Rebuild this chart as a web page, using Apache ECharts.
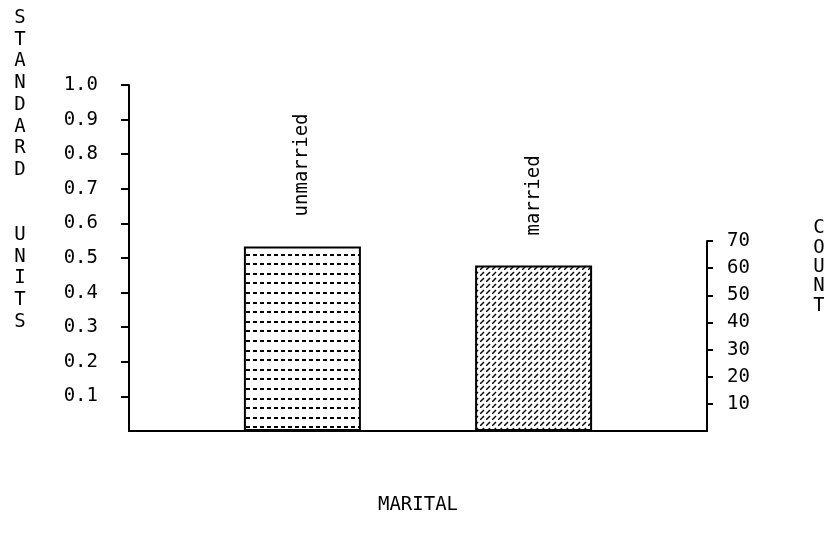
<!DOCTYPE html>
<html>
<head>
<meta charset="utf-8">
<title>MARITAL</title>
<script src="https://cdn.jsdelivr.net/npm/echarts@6/dist/echarts.min.js"></script>
<style>
  html, body { margin: 0; padding: 0; background: #fff; }
  #bar { width: 824px; height: 545px; }
</style>
</head>
<body>
<div id="bar"></div>
<script>
// 数据
const categories = ['unmarried', 'married'];
const barPositions = [1, 2];
const counts = [68, 61];
const unitTicks = [0.1, 0.2, 0.3, 0.4, 0.5, 0.6, 0.7, 0.8, 0.9, 1.0];
const countTicks = [10, 20, 30, 40, 50, 60, 70];

const FONT = '"DejaVu Sans Mono", "Liberation Mono", monospace';
const FONT_SIZE = 19;

// 横向虚线填充
function makeDashPattern () {
  const c = document.createElement('canvas');
  c.width = 7;
  c.height = 48;
  const ctx = c.getContext('2d');
  ctx.fillStyle = '#fff';
  ctx.fillRect(0, 0, c.width, c.height);
  ctx.fillStyle = '#000';
  [0, 10, 19, 29, 38].forEach(function (y) {
    ctx.fillRect(1, y + 4, 4, 2);
  });
  return c;
}

// 斜线填充
function makeHatchPattern () {
  const c = document.createElement('canvas');
  c.width = 6;
  c.height = 6;
  const ctx = c.getContext('2d');
  ctx.fillStyle = '#fff';
  ctx.fillRect(0, 0, 6, 6);
  ctx.strokeStyle = '#000';
  ctx.lineWidth = 1.4;
  ctx.beginPath();
  ctx.moveTo(0, 6);
  ctx.lineTo(4, 2);
  ctx.stroke();
  return c;
}

function getEchartsBar () {
  const myChart = echarts.init(document.getElementById('bar'));

  const patterns = [makeDashPattern(), makeHatchPattern()];

  const barData = counts.map(function (v, i) {
    return {
      value: [barPositions[i], v],
      name: categories[i],
      itemStyle: {
        color: { image: patterns[i], repeat: 'repeat' },
        borderColor: '#000',
        borderWidth: 2
      }
    };
  });

  const option = {
    backgroundColor: '#fff',
    animation: false,
    textStyle: { fontFamily: FONT },
    grid: [
      { left: 129, right: 117, top: 85, bottom: 114 },
      { left: 129, right: 117, top: 241, bottom: 114 }
    ],
    xAxis: [
      {
        type: 'value',
        gridIndex: 0,
        min: 0.25,
        max: 2.75,
        name: 'MARITAL',
        nameLocation: 'middle',
        nameGap: 65,
        nameTextStyle: { color: '#000', fontSize: FONT_SIZE, fontFamily: FONT },
        axisLine: { show: true, lineStyle: { color: '#000', width: 2 } },
        axisTick: { show: false },
        axisLabel: { show: false },
        splitLine: { show: false }
      },
      {
        type: 'value',
        gridIndex: 1,
        min: 0.25,
        max: 2.75,
        show: false
      }
    ],
    yAxis: [
      {
        type: 'value',
        gridIndex: 0,
        position: 'left',
        min: 0,
        max: 1,
        interval: 0.1,
        axisLine: { show: true, lineStyle: { color: '#000', width: 2 } },
        axisTick: {
          show: true,
          length: 8,
          customValues: unitTicks,
          lineStyle: { color: '#000', width: 2 }
        },
        axisLabel: {
          customValues: unitTicks,
          margin: 31,
          color: '#000',
          fontSize: FONT_SIZE,
          fontFamily: FONT,
          formatter: function (v) { return v.toFixed(1); }
        },
        splitLine: { show: false }
      },
      {
        type: 'value',
        gridIndex: 1,
        position: 'right',
        min: 0,
        max: 70,
        interval: 10,
        axisLine: { show: true, lineStyle: { color: '#000', width: 2 } },
        axisTick: {
          show: true,
          length: 6,
          customValues: countTicks,
          lineStyle: { color: '#000', width: 2 }
        },
        axisLabel: {
          customValues: countTicks,
          margin: 20,
          color: '#000',
          fontSize: FONT_SIZE,
          fontFamily: FONT
        },
        splitLine: { show: false }
      }
    ],
    graphic: [
      {
        type: 'text',
        x: 20,
        y: 170,
        style: {
          text: 'STANDARD  UNITS'.split('').join('\n'),
          font: FONT_SIZE + 'px ' + FONT,
          fill: '#000',
          lineHeight: 21.7,
          align: 'center',
          verticalAlign: 'middle',
          textAlign: 'center',
          textVerticalAlign: 'middle'
        }
      },
      {
        type: 'text',
        x: 819,
        y: 267,
        style: {
          text: 'COUNT'.split('').join('\n'),
          font: FONT_SIZE + 'px ' + FONT,
          fill: '#000',
          lineHeight: 19.3,
          align: 'center',
          verticalAlign: 'middle',
          textAlign: 'center',
          textVerticalAlign: 'middle'
        }
      }
    ],
    series: [
      {
        type: 'bar',
        xAxisIndex: 1,
        yAxisIndex: 1,
        barWidth: 117,
        clip: false,
        data: barData,
        label: {
          show: true,
          position: 'top',
          distance: 30,
          rotate: 90,
          align: 'left',
          verticalAlign: 'middle',
          color: '#000',
          fontSize: FONT_SIZE,
          fontFamily: FONT,
          formatter: function (p) { return p.name; }
        }
      }
    ]
  };

  myChart.setOption(option);

  window.addEventListener('resize', function () {
    myChart.resize();
  });
}

getEchartsBar();
</script>
</body>
</html>
